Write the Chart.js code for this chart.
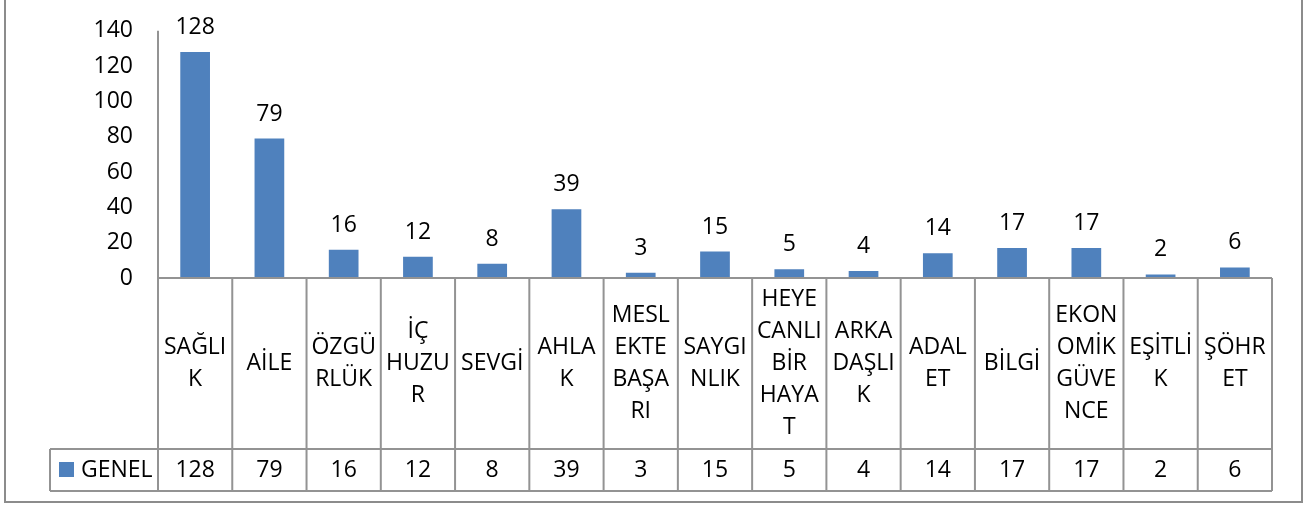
<!DOCTYPE html>
<html lang="tr">

<head>
    <meta charset="UTF-8">
    <title>GENEL</title>
    <style>
        body {
            margin: 0;
            background: #fff;
        }

        canvas {
            display: block;
        }
    </style>
</head>

<body>
    <canvas id="myChart" width="1312" height="506"></canvas>

    <script src="https://cdn.jsdelivr.net/npm/chart.js"></script>
    <script>
        // kategoriler (tabloda satır satır yazılıyor)
        const categories = [
            ['SAĞLI', 'K'], ['AİLE'], ['ÖZGÜ', 'RLÜK'], ['İÇ', 'HUZU', 'R'], ['SEVGİ'],
            ['AHLA', 'K'], ['MESL', 'EKTE', 'BAŞA', 'RI'], ['SAYGI', 'NLIK'],
            ['HEYE', 'CANLI', 'BİR', 'HAYA', 'T'], ['ARKA', 'DAŞLI', 'K'], ['ADAL', 'ET'],
            ['BİLGİ'], ['EKON', 'OMİK', 'GÜVE', 'NCE'], ['EŞİTLİ', 'K'], ['ŞÖHR', 'ET']
        ];
        const seriesName = 'GENEL';
        const genel = [128, 79, 16, 12, 8, 39, 3, 15, 5, 4, 14, 17, 17, 2, 6];
        const yTicks = [0, 20, 40, 60, 80, 100, 120, 140];

        const FONT = '"Open Sans", sans-serif';
        const FSIZE = 23;
        const lineColor = '#939393';
        const barColor = '#4f81bd';

        // dış çerçeve
        const framePlugin = {
            id: 'frame',
            beforeDraw(chart) {
                const c = chart.ctx;
                c.save();
                c.strokeStyle = '#8c8c8c';
                c.lineWidth = 2;
                c.strokeRect(5, -10, 1297, 512);
                c.restore();
            }
        };

        // bar üstündeki değerler
        const valueLabels = {
            id: 'valueLabels',
            afterDatasetsDraw(chart) {
                const c = chart.ctx;
                const meta = chart.getDatasetMeta(0);
                c.save();
                c.font = FSIZE + 'px ' + FONT;
                c.fillStyle = '#000';
                c.textAlign = 'center';
                c.textBaseline = 'alphabetic';
                meta.data.forEach(function (bar, i) {
                    c.fillText(genel[i], bar.x, bar.y - 18);
                });
                c.restore();
            }
        };

        // alttaki veri tablosu
        const dataTable = {
            id: 'dataTable',
            afterDraw(chart) {
                const c = chart.ctx;
                const xs = chart.scales.x;
                const area = chart.chartArea;
                const n = categories.length;
                const w = (xs.right - xs.left) / n;
                const top = area.bottom;
                const mid = 449;
                const bottom = 491;
                const legendLeft = 50;

                c.save();
                c.strokeStyle = lineColor;
                c.lineWidth = 2;
                c.beginPath();
                // y ekseni + tablonun sol çizgisi
                c.moveTo(xs.left, area.top);
                c.lineTo(xs.left, bottom);
                // x ekseni
                c.moveTo(xs.left, top);
                c.lineTo(xs.right, top);
                c.moveTo(legendLeft, mid);
                c.lineTo(xs.right, mid);
                c.moveTo(legendLeft, bottom);
                c.lineTo(xs.right, bottom);
                c.moveTo(legendLeft, mid);
                c.lineTo(legendLeft, bottom);
                for (let i = 1; i <= n; i++) {
                    const x = xs.left + i * w;
                    c.moveTo(x, top);
                    c.lineTo(x, bottom);
                }
                c.stroke();

                c.font = FSIZE + 'px ' + FONT;
                c.fillStyle = '#000';
                c.textAlign = 'center';
                c.textBaseline = 'middle';
                const lh = 32;
                const cellMid = (top + mid) / 2;
                categories.forEach(function (lines, i) {
                    const cx = xs.getPixelForValue(i);
                    const y0 = cellMid - (lines.length - 1) * lh / 2;
                    lines.forEach(function (t, j) {
                        c.fillText(t, cx, y0 + j * lh);
                    });
                    c.fillText(genel[i], cx, (mid + bottom) / 2);
                });

                // lejant
                c.fillStyle = barColor;
                c.fillRect(59, 462, 15, 15);
                c.fillStyle = '#000';
                c.textAlign = 'left';
                c.fillText(seriesName, 81, (mid + bottom) / 2);
                c.restore();
            }
        };

        const ctx = document.getElementById('myChart');
        const myChart = new Chart(ctx, {
            type: 'bar',
            data: {
                labels: categories.map(function (l) { return l.join(' '); }),
                datasets: [{
                    label: seriesName,
                    data: genel,
                    backgroundColor: barColor,
                    categoryPercentage: 0.8,
                    barPercentage: 0.5
                }]
            },
            options: {
                responsive: false,
                animation: false,
                devicePixelRatio: 1,
                layout: {
                    padding: { left: 0, top: 16, right: 40, bottom: 228 }
                },
                plugins: {
                    legend: { display: false },
                    tooltip: { enabled: false }
                },
                scales: {
                    x: {
                        display: false
                    },
                    y: {
                        min: 0,
                        max: 140,
                        afterFit: function (scale) {
                            scale.width = 158;
                        },
                        afterBuildTicks: function (scale) {
                            scale.ticks = yTicks.map(function (v) { return { value: v }; });
                        },
                        grid: { display: false },
                        border: { display: false },
                        ticks: {
                            padding: 17,
                            color: '#000',
                            font: { family: FONT, size: FSIZE }
                        }
                    }
                }
            },
            plugins: [framePlugin, valueLabels, dataTable]
        });
    </script>
</body>

</html>
